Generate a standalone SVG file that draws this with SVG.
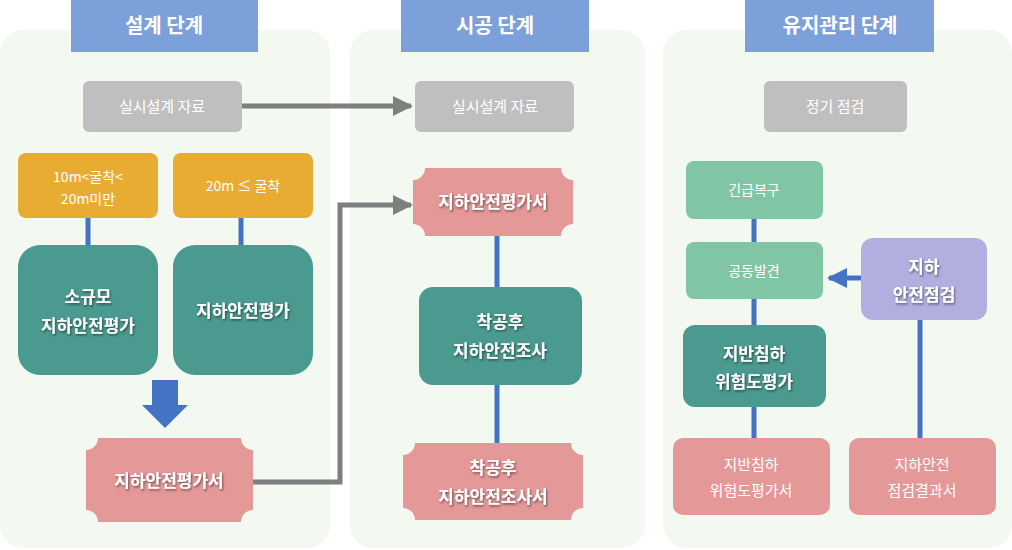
<svg xmlns="http://www.w3.org/2000/svg" width="1012" height="550" viewBox="0 0 1012 550">
<defs>
<style>
text{font-family:"Noto Sans CJK KR","Noto Sans",sans-serif;text-anchor:middle;fill:#fff}
.panel{fill:#f3f8f0}
.hdr{fill:#7ba0da}
.ht{font-size:20px;font-weight:bold}
.gray{fill:#bfbfbf}
.org{fill:#e9ac33}
.teal{fill:#4b9a8f}
.pink{fill:#e49898}
.grn{fill:#80c6a5}
.lav{fill:#b1aee0}
.t15{font-size:15px}
.t14{font-size:14px}
.b{font-size:17px;font-weight:bold;filter:url(#sh)}
.bl{stroke:#4472c4;stroke-width:5;fill:none}
.gl{stroke:#7f7f7f;stroke-width:5;fill:none}
</style>
<filter id="sh"><feDropShadow dx="1" dy="1.5" stdDeviation="0.8" flood-color="#000" flood-opacity="0.5"/></filter>
<marker id="ga" viewBox="0 0 10 10" refX="9" refY="5" markerWidth="4" markerHeight="4" orient="auto"><path d="M0,0L10,5L0,10z" fill="#7f7f7f"/></marker>
<marker id="ba" viewBox="0 0 10 10" refX="9" refY="5" markerWidth="4" markerHeight="4" orient="auto"><path d="M0,0L10,5L0,10z" fill="#4472c4"/></marker>
</defs>
<rect class="panel" x="0" y="30" width="330" height="518" rx="24"/>
<rect class="panel" x="350" y="30" width="295" height="518" rx="24"/>
<rect class="panel" x="663" y="30" width="349" height="518" rx="24"/>
<rect class="hdr" x="71" y="0" width="187" height="52"/><text class="ht" x="164" y="33">설계 단계</text>
<rect class="hdr" x="401" y="0" width="188" height="52"/><text class="ht" x="495" y="33">시공 단계</text>
<rect class="hdr" x="745" y="0" width="189" height="52"/><text class="ht" x="840" y="33">유지관리 단계</text>
<g id="connectors">
<line class="bl" x1="88" y1="218" x2="88" y2="245"/>
<line class="bl" x1="241" y1="218" x2="241" y2="245"/>
<line class="gl" x1="242" y1="106" x2="411" y2="106" marker-end="url(#ga)"/>
<polyline class="gl" points="253,482 340,482 340,205 411,205" marker-end="url(#ga)"/>
<line class="bl" x1="497" y1="236" x2="497" y2="287"/>
<line class="bl" x1="497" y1="385" x2="497" y2="443"/>
<line class="bl" x1="754" y1="219" x2="754" y2="242"/>
<line class="bl" x1="754" y1="299" x2="754" y2="325"/>
<line class="bl" x1="754" y1="407" x2="754" y2="438"/>
<line class="bl" x1="920" y1="320" x2="920" y2="438"/>
<line class="bl" x1="861" y1="278" x2="829" y2="278" marker-end="url(#ba)"/>
<path d="M152,380H178V405H188L165,428L142,405H152Z" fill="#4472c4"/>
</g>
<g id="n1"><rect class="gray" x="83" y="81" width="159" height="51" rx="6"/><text class="t15" x="162" y="112">실시설계 자료</text></g>
<g id="n2"><rect class="org" x="18" y="153" width="140" height="65" rx="8"/><text class="t14" x="88" y="182">10m&lt;굴착&lt;</text><text class="t14" x="88" y="204">20m미만</text></g>
<g id="n3"><rect class="org" x="173" y="153" width="140" height="65" rx="8"/><text class="t14" x="243" y="191">20m ≤ 굴착</text></g>
<g id="n4"><rect class="teal" x="18" y="245" width="140" height="130" rx="22"/><text class="b" x="88" y="303">소규모</text><text class="b" x="88" y="332">지하안전평가</text></g>
<g id="n5"><rect class="teal" x="173" y="245" width="140" height="130" rx="22"/><text class="b" x="243" y="317">지하안전평가</text></g>
<g id="n6"><path class="pink" d="M98,438H241A12,12 0 0 0 253,450V510A12,12 0 0 0 241,522H98A12,12 0 0 0 86,510V450A12,12 0 0 0 98,438Z"/><text class="b" x="169" y="487">지하안전평가서</text></g>
<g id="n7"><rect class="gray" x="415" y="81" width="159" height="51" rx="6"/><text class="t15" x="495" y="112">실시설계 자료</text></g>
<g id="n8"><path class="pink" d="M425,168H561A12,12 0 0 0 573,180V224A12,12 0 0 0 561,236H425A12,12 0 0 0 413,224V180A12,12 0 0 0 425,168Z"/><text class="b" x="493" y="208">지하안전평가서</text></g>
<g id="n9"><rect class="teal" x="419" y="287" width="163" height="98" rx="14"/><text class="b" x="500" y="328">착공후</text><text class="b" x="500" y="357">지하안전조사</text></g>
<g id="n10"><path class="pink" d="M415,443H571A12,12 0 0 0 583,455V508A12,12 0 0 0 571,520H415A12,12 0 0 0 403,508V455A12,12 0 0 0 415,443Z"/><text class="b" x="493" y="474">착공후</text><text class="b" x="493" y="503">지하안전조사서</text></g>
<g id="n11"><rect class="gray" x="764" y="81" width="143" height="51" rx="6"/><text class="t15" x="835" y="112">정기 점검</text></g>
<g id="n12"><rect class="grn" x="686" y="161" width="137" height="58" rx="8"/><text class="t14" x="754" y="195">긴급복구</text></g>
<g id="n13"><rect class="grn" x="686" y="242" width="137" height="57" rx="8"/><text class="t14" x="754" y="276">공동발견</text></g>
<g id="n14"><rect class="teal" x="683" y="325" width="143" height="82" rx="12"/><text class="b" x="754" y="360">지반침하</text><text class="b" x="754" y="388">위험도평가</text></g>
<g id="n15"><rect class="lav" x="861" y="238" width="126" height="82" rx="12"/><text class="b" x="924" y="273">지하</text><text class="b" x="924" y="301">안전점검</text></g>
<g id="n16"><rect class="pink" x="673" y="438" width="157" height="77" rx="10"/><text class="t15" x="751" y="470">지반침하</text><text class="t15" x="751" y="496">위험도평가서</text></g>
<g id="n17"><rect class="pink" x="849" y="438" width="147" height="77" rx="10"/><text class="t15" x="922" y="470">지하안전</text><text class="t15" x="922" y="496">점검결과서</text></g>
</svg>
